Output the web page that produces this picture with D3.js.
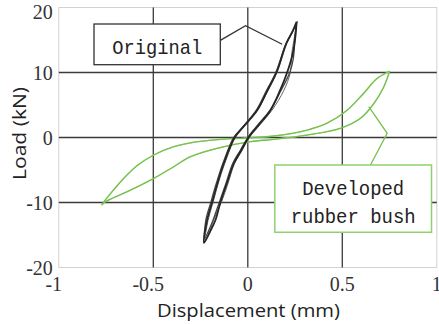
<!DOCTYPE html>
<html><head><meta charset="utf-8">
<script src="https://cdn.jsdelivr.net/npm/d3@7"></script>
<style>html,body{margin:0;padding:0;background:#fff;}svg{display:block;}</style>
</head><body>
<script>
// ---- data ----
const xTicks = [-1, -0.5, 0, 0.5, 1];
const yTicks = [-20, -10, 0, 10, 20];
const xTickLabels = ["-1", "-0.5", "0", "0.5", "1"];
const yTickLabels = ["-20", "-10", "0", "10", "20"];
const xTitle = "Displacement (mm)";
const yTitle = "Load (kN)";
const seriesNames = ["Original", "Developed", "rubber bush"];

// Original: several recorded cycles [displacement mm, load kN]
const originalCycle1 = [[0.258,17.8],[0.238,16.4],[0.204,14.5],[0.152,10.0],[0.100,7.0],[0.050,4.2],[-0.025,1.6],[-0.070,0],[-0.127,-4.0],[-0.160,-7.0],[-0.188,-9.9],[-0.215,-12.7],[-0.232,-16.2],[-0.200,-14.5],[-0.171,-12.7],[-0.144,-9.9],[-0.110,-7.0],[-0.074,-4.0],[-0.035,-2.0],[0.004,0],[0.060,2.0],[0.120,4.2],[0.170,7.2],[0.208,10.0],[0.236,12.7],[0.253,15.8],[0.258,17.8]];
const originalCycle2 = [[0.255,17.5],[0.233,16.1],[0.199,14.2],[0.148,10.0],[0.095,7.0],[0.045,4.2],[-0.030,1.5],[-0.075,0],[-0.132,-4.0],[-0.166,-7.0],[-0.195,-9.9],[-0.222,-12.7],[-0.228,-15.5],[-0.195,-13.5],[-0.175,-12.0],[-0.150,-9.9],[-0.115,-7.0],[-0.080,-4.0],[-0.040,-2.0],[0.000,0],[0.055,2.0],[0.118,4.2],[0.175,7.2],[0.222,10.0],[0.240,12.0],[0.250,15.5],[0.255,17.5]];
const originalCycle3 = [[0.262,17.9],[0.243,16.6],[0.208,14.6],[0.156,10.2],[0.104,7.1],[0.054,4.3],[-0.020,1.7],[-0.066,0],[-0.122,-4.0],[-0.156,-7.0],[-0.183,-9.9],[-0.210,-12.7],[-0.226,-15.8],[-0.206,-14.8],[-0.181,-12.7],[-0.139,-9.9],[-0.104,-7.0],[-0.070,-4.0],[-0.030,-2.0],[0.008,0],[0.066,2.0],[0.128,4.2],[0.190,7.2],[0.225,10.0],[0.232,12.7],[0.250,16.0],[0.262,17.9]];

// Developed rubber bush: loop [displacement mm, load kN]
const bushCycle1 = [[0.751,10.23],[0.685,9.1],[0.614,6.8],[0.526,4.2],[0.420,2.2],[0.314,1.15],[0.138,0.23],[-0.039,-0.12],[-0.110,-0.2],[-0.268,-0.65],[-0.392,-1.42],[-0.497,-2.69],[-0.580,-4.2],[-0.656,-6.28],[-0.774,-10.38],[-0.753,-9.88],[-0.638,-8.34],[-0.497,-6.28],[-0.392,-4.49],[-0.303,-2.95],[-0.162,-1.66],[0.014,-0.65],[0.138,-0.28],[0.314,0.38],[0.490,1.42],[0.596,2.95],[0.667,5.26],[0.720,7.82],[0.751,10.23]];
const bushCycle2 = [[0.748,10.1],[0.680,9.0],[0.608,6.7],[0.520,4.1],[0.415,2.15],[0.310,1.1],[0.135,0.2],[-0.040,-0.15],[-0.112,-0.22],[-0.270,-0.68],[-0.395,-1.46],[-0.500,-2.74],[-0.584,-4.3],[-0.660,-6.4],[-0.770,-10.3],[-0.750,-9.8],[-0.635,-8.3],[-0.494,-6.24],[-0.389,-4.45],[-0.300,-2.92],[-0.160,-1.64],[0.016,-0.64],[0.140,-0.27],[0.318,0.4],[0.494,1.46],[0.600,3.0],[0.670,5.3],[0.718,7.7],[0.748,10.1]];

// annotation anchors, in data units
const originalBox = {x0:-0.8137, x1:-0.1455, y0:17.46, y1:11.2};
const originalLeader = [[-0.1455,14.95],[-0.012,17.2],[0.182,14.34]];
const bushBox = {x0:0.1429, x1:0.972, y0:-4.23, y1:-14.58};
const bushLeader = [[0.640,4.74],[0.7376,0.65],[0.649,-4.23]];

// ---- chart ----
const W = 439, H = 324;
const svg = d3.select("body").append("svg").attr("width", W).attr("height", H);
const x = d3.scaleLinear().domain([-1, 1]).range([58.8, 436.8]);
const y = d3.scaleLinear().domain([-20, 20]).range([267.5, 7.5]);

const black = "#262626", green = "#76c04f", greenBox = "#8fd16f";

// plot frame
svg.append("rect").attr("x", x(-1)).attr("y", y(20)).attr("width", x(1)-x(-1)).attr("height", y(-20)-y(20))
  .attr("fill", "none").attr("stroke", "#d2d2d2").attr("stroke-width", 1);

// grid lines
svg.append("g").selectAll("line").data(xTicks.filter(v => v > -1 && v < 1)).join("line")
  .attr("x1", d => x(d)).attr("x2", d => x(d)).attr("y1", y(20)).attr("y2", y(-20))
  .attr("stroke", "#3a3a3a").attr("stroke-width", 1.3);
svg.append("g").selectAll("line").data(yTicks.filter(v => v > -20 && v < 20)).join("line")
  .attr("x1", x(-1)).attr("x2", x(1)).attr("y1", d => y(d)).attr("y2", d => y(d))
  .attr("stroke", "#3a3a3a").attr("stroke-width", 1.3);

// tick labels
svg.append("g").selectAll("text").data(yTicks).join("text")
  .attr("x", x(-1) - 6).attr("y", d => Math.max(y(d), 12)).attr("dy", "0.35em")
  .attr("text-anchor", "end").attr("font-family", "Liberation Serif, serif").attr("font-size", 20)
  .attr("fill", "#333").text((d, i) => yTickLabels[i]);
svg.append("g").selectAll("text").data(xTicks).join("text")
  .attr("x", d => x(d) + (d < 0 ? -5 : 0)).attr("y", y(-20) + 23.5)
  .attr("text-anchor", "middle").attr("font-family", "Liberation Serif, serif").attr("font-size", 20)
  .attr("fill", "#333").text((d, i) => xTickLabels[i]);

// axis titles
svg.append("text").attr("x", 248.5).attr("y", 317).attr("text-anchor", "middle")
  .attr("font-family", "Open Sans, Noto Sans, sans-serif").attr("font-size", 19)
  .attr("textLength", 183).attr("lengthAdjust", "spacingAndGlyphs").attr("fill", "#222").text(xTitle);
svg.append("text").attr("transform", "translate(25.5,133.5) rotate(-90)").attr("text-anchor", "middle")
  .attr("font-family", "Open Sans, Noto Sans, sans-serif").attr("font-size", 19)
  .attr("textLength", 93).attr("lengthAdjust", "spacingAndGlyphs").attr("fill", "#222").text(yTitle);

// curves
const line = d3.line().x(d => x(d[0])).y(d => y(d[1])).curve(d3.curveCatmullRom.alpha(0.5));
svg.append("path").datum(bushCycle2).attr("d", line).attr("fill", "none").attr("stroke", "#a9dc90").attr("stroke-width", 1.2);
svg.append("path").datum(bushCycle1).attr("d", line).attr("fill", "none").attr("stroke", green).attr("stroke-width", 1.3);

svg.append("path").datum(originalCycle3).attr("d", line).attr("fill", "none").attr("stroke", "#666").attr("stroke-width", 1.0);
svg.append("path").datum(originalCycle2).attr("d", line).attr("fill", "none").attr("stroke", "#444").attr("stroke-width", 1.3);
svg.append("path").datum(originalCycle1).attr("d", line).attr("fill", "none").attr("stroke", black).attr("stroke-width", 1.8);

// annotations
const lin = d3.line().x(d => x(d[0])).y(d => y(d[1]));
svg.append("path").datum(originalLeader).attr("d", lin).attr("fill", "none").attr("stroke", "#333").attr("stroke-width", 1.3);
svg.append("path").datum(bushLeader).attr("d", lin).attr("fill", "none").attr("stroke", green).attr("stroke-width", 1.3);

svg.append("rect").attr("x", x(originalBox.x0)).attr("y", y(originalBox.y0))
  .attr("width", x(originalBox.x1) - x(originalBox.x0)).attr("height", y(originalBox.y1) - y(originalBox.y0))
  .attr("fill", "#fff").attr("stroke", "#333").attr("stroke-width", 1.3);
svg.append("rect").attr("x", x(bushBox.x0)).attr("y", y(bushBox.y0))
  .attr("width", x(bushBox.x1) - x(bushBox.x0)).attr("height", y(bushBox.y1) - y(bushBox.y0))
  .attr("fill", "#fff").attr("stroke", greenBox).attr("stroke-width", 1.5);

const mono = "Liberation Mono, DejaVu Sans Mono, monospace";
const ocx = (x(originalBox.x0) + x(originalBox.x1)) / 2;
svg.append("text").attr("x", ocx).attr("y", y(originalBox.y0) + 30).attr("text-anchor", "middle")
  .attr("font-family", mono).attr("font-size", 21).attr("textLength", 90).attr("lengthAdjust", "spacingAndGlyphs")
  .attr("fill", "#222").text(seriesNames[0]);
const bcx = (x(bushBox.x0) + x(bushBox.x1)) / 2;
svg.append("text").attr("x", bcx).attr("y", y(bushBox.y0) + 30).attr("text-anchor", "middle")
  .attr("font-family", mono).attr("font-size", 21).attr("textLength", 102).attr("lengthAdjust", "spacingAndGlyphs")
  .attr("fill", "#222").text(seriesNames[1]);
svg.append("text").attr("x", bcx).attr("y", y(bushBox.y0) + 58.3).attr("text-anchor", "middle")
  .attr("font-family", mono).attr("font-size", 21).attr("textLength", 125).attr("lengthAdjust", "spacingAndGlyphs")
  .attr("fill", "#222").text(seriesNames[2]);
</script>
</body></html>
